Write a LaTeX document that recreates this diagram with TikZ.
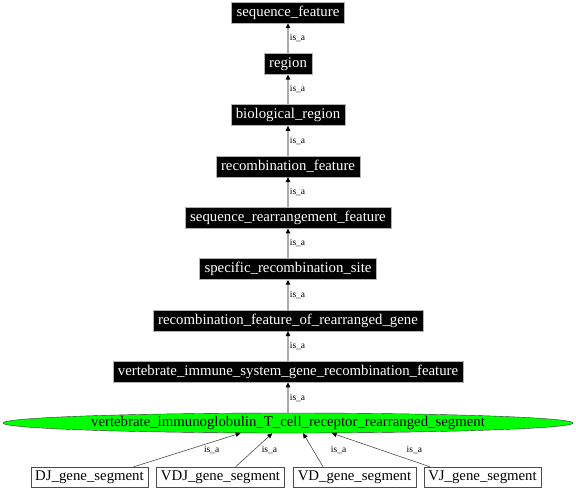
\documentclass[tikz,border=0pt]{standalone}
\usepackage{fontspec}
\setmainfont{Liberation Serif}
\usetikzlibrary{arrows.meta,shapes.geometric}

\begin{document}
\begin{tikzpicture}[
    x=1pt,
    y=-1pt,
    term/.style={draw=gray!60, fill=black, text=white,
        font=\fontsize{14.8}{16}\selectfont, inner xsep=5pt, inner ysep=0pt,
        minimum height=21pt, text height=10.5pt, text depth=3pt},
    leaf/.style={draw=black!70, fill=white,
        font=\fontsize{14.8}{16}\selectfont, inner xsep=4.5pt, inner ysep=0pt,
        minimum height=20pt, text height=10.5pt, text depth=3pt},
    focus/.style={ellipse, draw=black!80, fill=green,
        font=\fontsize{14.8}{16}\selectfont, inner sep=0pt,
        minimum width=570pt, minimum height=20pt, text height=7pt, text depth=1pt},
    isa/.style={draw=gray!65, line width=1.8pt,
        -{Triangle[color=black, length=5pt, width=4.5pt]}},
    subisa/.style={draw=black!70, line width=0.6pt,
        -{Triangle[color=black, length=5pt, width=4.5pt]}},
    lab/.style={font=\fontsize{9.5}{10}\selectfont, inner sep=1pt}
]

\useasboundingbox (0,0) rectangle (576,490);

% Chain of parent terms
\foreach \name/\y/\txt in {
    seqfeat/12.5/sequence\_feature,
    region/63.8/region,
    bioreg/115.1/biological\_region,
    recfeat/166.4/recombination\_feature,
    seqrearr/217.7/sequence\_rearrangement\_feature,
    specsite/269/specific\_recombination\_site,
    recgene/320.3/recombination\_feature\_of\_rearranged\_gene,
    vertrec/371.6/vertebrate\_immune\_system\_gene\_recombination\_feature%
} {
    \node[term] (\name) at (288,\y) {\txt};
}

% Focus term
\node[focus] (tcrseg) at (288,423)
    {vertebrate\_immunoglobulin\_T\_cell\_receptor\_rearranged\_segment};

% Child terms
\foreach \name/\x/\txt in {
    dj/89.5/DJ\_gene\_segment,
    vdj/220.5/VDJ\_gene\_segment,
    vd/354.5/VD\_gene\_segment,
    vj/482.5/VJ\_gene\_segment%
} {
    \node[leaf] (\name) at (\x,477) {\txt};
}

% is_a edges up the chain
\foreach \lo/\hi in {
    region/seqfeat,
    bioreg/region,
    recfeat/bioreg,
    seqrearr/recfeat,
    specsite/seqrearr,
    recgene/specsite,
    vertrec/recgene,
    tcrseg/vertrec%
} {
    \draw[isa] (\lo) -- node[lab, right] {is\_a} (\hi);
}

% is_a edges from the children
\foreach \name/\from/\to/\dx in {
    dj/13.9/192.7/24.5,
    vdj/34.6/213.7/15.5,
    vd/162.4/326.3/25.5,
    vj/169.8/347.6/33.5%
} {
    \draw[subisa] (\name.\from) -- node[lab, xshift=\dx pt] {is\_a} (tcrseg.\to);
}

\end{tikzpicture}
\end{document}
